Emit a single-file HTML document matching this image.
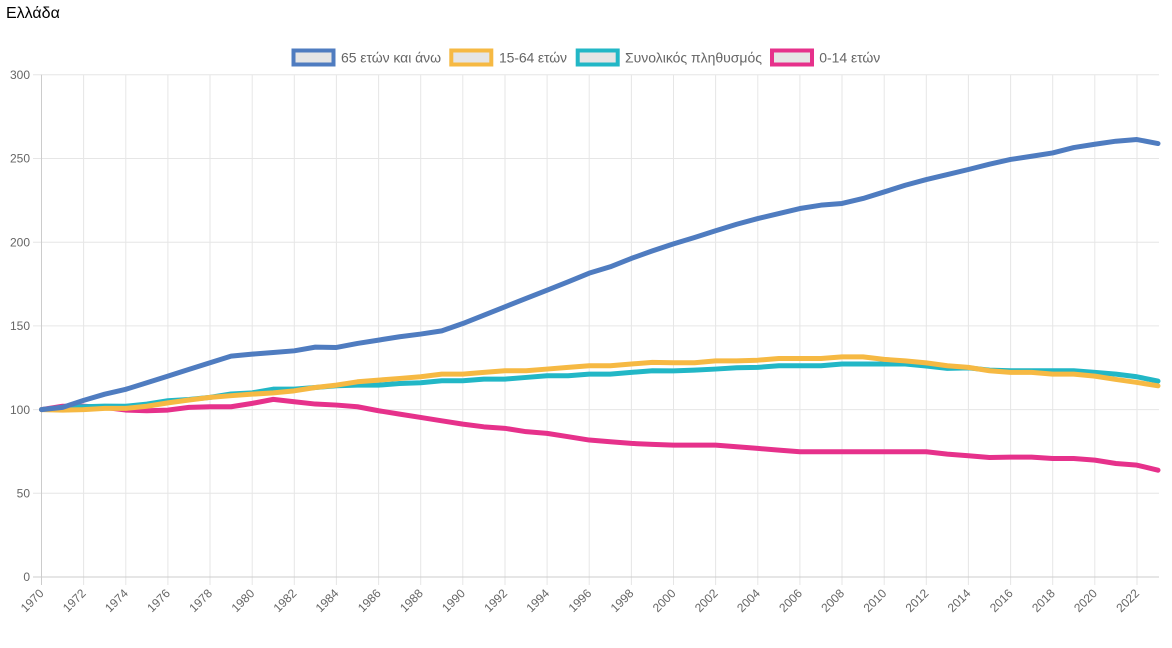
<!DOCTYPE html>
<html>
<head>
<meta charset="utf-8">
<style>
  html, body { margin: 0; padding: 0; background: #ffffff; }
  body { width: 1172px; height: 648px; overflow: hidden; }
  svg { display: block; }
  text { font-family: "Liberation Sans", "DejaVu Sans", sans-serif; }
</style>
</head>
<body>
<svg width="1172" height="648" viewBox="0 0 1172 648" xmlns="http://www.w3.org/2000/svg">
  <rect x="0" y="0" width="1172" height="648" fill="#ffffff"/>

  <!-- Title -->
  <text x="6" y="18" font-size="16" fill="#000000">Ελλάδα</text>

  <!-- Legend -->
  <g font-size="14" fill="#666666">
    <rect x="293.5" y="50.5" width="40" height="14" fill="#e5e5e5" stroke="#4f7cc0" stroke-width="4"/>
    <text x="341" y="62.5" textLength="100" lengthAdjust="spacing">65 ετών και άνω</text>
    <rect x="451.3" y="50.5" width="40" height="14" fill="#e5e5e5" stroke="#f6b943" stroke-width="4"/>
    <text x="499" y="62.5" textLength="68" lengthAdjust="spacing">15-64 ετών</text>
    <rect x="577.7" y="50.5" width="40" height="14" fill="#e5e5e5" stroke="#22b7c6" stroke-width="4"/>
    <text x="625" y="62.5" textLength="137" lengthAdjust="spacing">Συνολικός πληθυσμός</text>
    <rect x="772" y="50.5" width="40" height="14" fill="#e5e5e5" stroke="#e6318b" stroke-width="4"/>
    <text x="819.3" y="62.5" textLength="61" lengthAdjust="spacing">0-14 ετών</text>
  </g>

  <!-- Horizontal grid -->
  <g stroke="#e6e6e6" stroke-width="1">
    <line x1="33" y1="74.7" x2="1159" y2="74.7"/>
    <line x1="33" y1="158.5" x2="1159" y2="158.5"/>
    <line x1="33" y1="242.2" x2="1159" y2="242.2"/>
    <line x1="33" y1="325.9" x2="1159" y2="325.9"/>
    <line x1="33" y1="409.6" x2="1159" y2="409.6"/>
    <line x1="33" y1="493.3" x2="1159" y2="493.3"/>
  </g>

  <!-- Vertical grid -->
  <g stroke="#e6e6e6" stroke-width="1">
    <line x1="83.6" y1="74.7" x2="83.6" y2="585"/>
    <line x1="125.8" y1="74.7" x2="125.8" y2="585"/>
    <line x1="167.9" y1="74.7" x2="167.9" y2="585"/>
    <line x1="210.0" y1="74.7" x2="210.0" y2="585"/>
    <line x1="252.2" y1="74.7" x2="252.2" y2="585"/>
    <line x1="294.3" y1="74.7" x2="294.3" y2="585"/>
    <line x1="336.4" y1="74.7" x2="336.4" y2="585"/>
    <line x1="378.6" y1="74.7" x2="378.6" y2="585"/>
    <line x1="420.7" y1="74.7" x2="420.7" y2="585"/>
    <line x1="462.8" y1="74.7" x2="462.8" y2="585"/>
    <line x1="505.0" y1="74.7" x2="505.0" y2="585"/>
    <line x1="547.1" y1="74.7" x2="547.1" y2="585"/>
    <line x1="589.2" y1="74.7" x2="589.2" y2="585"/>
    <line x1="631.4" y1="74.7" x2="631.4" y2="585"/>
    <line x1="673.5" y1="74.7" x2="673.5" y2="585"/>
    <line x1="715.6" y1="74.7" x2="715.6" y2="585"/>
    <line x1="757.8" y1="74.7" x2="757.8" y2="585"/>
    <line x1="799.9" y1="74.7" x2="799.9" y2="585"/>
    <line x1="842.0" y1="74.7" x2="842.0" y2="585"/>
    <line x1="884.2" y1="74.7" x2="884.2" y2="585"/>
    <line x1="926.3" y1="74.7" x2="926.3" y2="585"/>
    <line x1="968.4" y1="74.7" x2="968.4" y2="585"/>
    <line x1="1010.6" y1="74.7" x2="1010.6" y2="585"/>
    <line x1="1052.7" y1="74.7" x2="1052.7" y2="585"/>
    <line x1="1094.8" y1="74.7" x2="1094.8" y2="585"/>
    <line x1="1137.0" y1="74.7" x2="1137.0" y2="585"/>
  </g>

  <!-- Axes -->
  <g stroke="#cccccc" stroke-width="1">
    <line x1="41.5" y1="74.7" x2="41.5" y2="585"/>
    <line x1="33" y1="577" x2="1159" y2="577"/>
  </g>

  <!-- Y labels -->
  <g font-size="12" fill="#666666" text-anchor="end">
    <text x="30" y="78.9">300</text>
    <text x="30" y="162.7">250</text>
    <text x="30" y="246.4">200</text>
    <text x="30" y="330.1">150</text>
    <text x="30" y="413.8">100</text>
    <text x="30" y="497.5">50</text>
    <text x="30" y="581.2">0</text>
  </g>

  <!-- X labels -->
  <g font-size="12" fill="#666666" text-anchor="end">
    <text transform="translate(44.5,594) rotate(-45)">1970</text>
    <text transform="translate(86.6,594) rotate(-45)">1972</text>
    <text transform="translate(128.8,594) rotate(-45)">1974</text>
    <text transform="translate(170.9,594) rotate(-45)">1976</text>
    <text transform="translate(213.0,594) rotate(-45)">1978</text>
    <text transform="translate(255.2,594) rotate(-45)">1980</text>
    <text transform="translate(297.3,594) rotate(-45)">1982</text>
    <text transform="translate(339.4,594) rotate(-45)">1984</text>
    <text transform="translate(381.6,594) rotate(-45)">1986</text>
    <text transform="translate(423.7,594) rotate(-45)">1988</text>
    <text transform="translate(465.8,594) rotate(-45)">1990</text>
    <text transform="translate(508.0,594) rotate(-45)">1992</text>
    <text transform="translate(550.1,594) rotate(-45)">1994</text>
    <text transform="translate(592.2,594) rotate(-45)">1996</text>
    <text transform="translate(634.4,594) rotate(-45)">1998</text>
    <text transform="translate(676.5,594) rotate(-45)">2000</text>
    <text transform="translate(718.6,594) rotate(-45)">2002</text>
    <text transform="translate(760.8,594) rotate(-45)">2004</text>
    <text transform="translate(802.9,594) rotate(-45)">2006</text>
    <text transform="translate(845.0,594) rotate(-45)">2008</text>
    <text transform="translate(887.2,594) rotate(-45)">2010</text>
    <text transform="translate(929.3,594) rotate(-45)">2012</text>
    <text transform="translate(971.4,594) rotate(-45)">2014</text>
    <text transform="translate(1013.6,594) rotate(-45)">2016</text>
    <text transform="translate(1055.7,594) rotate(-45)">2018</text>
    <text transform="translate(1097.8,594) rotate(-45)">2020</text>
    <text transform="translate(1140.0,594) rotate(-45)">2022</text>
  </g>

  <!-- Series (data coords: x = year-1970, y = value) -->
  <g transform="translate(41.5,577) scale(21.066,-1.6742)" fill="none" stroke-width="5" stroke-linejoin="round" stroke-linecap="round">
    <!-- 0-14 -->
    <polyline vector-effect="non-scaling-stroke" stroke="#e6318b" points="0,100 1,102 2,102 3,101.3 4,99.7 5,99.3 6,99.7 7,101.3 8,101.7 9,101.7 10,103.7 11,106.1 12,104.7 13,103.3 14,102.7 15,101.7 16,99.3 17,97.3 18,95.3 19,93.3 20,91.3 21,89.7 22,88.8 23,86.8 24,85.8 25,83.8 26,81.8 27,80.8 28,79.8 29,79.2 30,78.8 31,78.8 32,78.8 33,77.8 34,76.8 35,75.8 36,74.8 37,74.8 38,74.8 39,74.8 40,74.8 41,74.8 42,74.8 43,73.4 44,72.4 45,71.4 46,71.6 47,71.6 48,70.8 49,70.8 50,69.8 51,67.8 52,66.8 53,63.8"/>
    <!-- Total -->
    <polyline vector-effect="non-scaling-stroke" stroke="#22b7c6" points="0,100 1,101.3 2,101.7 3,102.1 4,102 5,103.3 6,105.3 7,106 8,107.3 9,109.3 10,110 11,112.2 12,112.2 13,113.2 14,114.2 15,114.6 16,114.6 17,115.6 18,116 19,117.2 20,117.2 21,118.2 22,118.2 23,119.2 24,120.2 25,120.2 26,121.2 27,121.2 28,122.2 29,123.2 30,123.1 31,123.6 32,124.2 33,125 34,125.2 35,126.2 36,126.2 37,126.2 38,127.2 39,127.2 40,127.2 41,127.2 42,126 43,124.6 44,124.9 45,123.6 46,123.2 47,123.2 48,123.2 49,123.2 50,122.2 51,121.2 52,119.6 53,117"/>
    <!-- 15-64 -->
    <polyline vector-effect="non-scaling-stroke" stroke="#f6b943" points="0,100 1,99.7 2,100 3,100.7 4,100.7 5,102 6,104 7,105.7 8,107.3 9,108.3 10,109.2 11,110 12,111.2 13,113.2 14,114.6 15,116.6 16,117.6 17,118.6 18,119.6 19,121.2 20,121.2 21,122.2 22,123.2 23,123.2 24,124.2 25,125.2 26,126.2 27,126.2 28,127.2 29,128.2 30,128 31,128 32,129.1 33,129.1 34,129.5 35,130.5 36,130.5 37,130.5 38,131.5 39,131.5 40,130 41,129.1 42,127.9 43,126.2 44,125.2 45,123.2 46,122.2 47,122.2 48,121.2 49,121.2 50,120 51,118 52,116.2 53,114.2"/>
    <!-- 65+ -->
    <polyline vector-effect="non-scaling-stroke" stroke="#4f7cc0" points="0,100 1,101.3 2,105.5 3,109.2 4,112.1 5,116 6,120 7,124 8,128 9,131.9 10,133.1 11,134.1 12,135.1 13,137.3 14,137.1 15,139.5 16,141.5 17,143.5 18,145.1 19,147 20,151.4 21,156.4 22,161.4 23,166.4 24,171.3 25,176.3 26,181.5 27,185.3 28,190.3 29,194.8 30,199 31,202.8 32,206.8 33,210.7 34,214.1 35,217.1 36,220.1 37,222.1 38,223.1 39,226.1 40,230 41,234 42,237.4 43,240.4 44,243.4 45,246.6 46,249.4 47,251.3 48,253.3 49,256.5 50,258.5 51,260.3 52,261.3 53,258.9"/>
  </g>
</svg>
</body>
</html>
